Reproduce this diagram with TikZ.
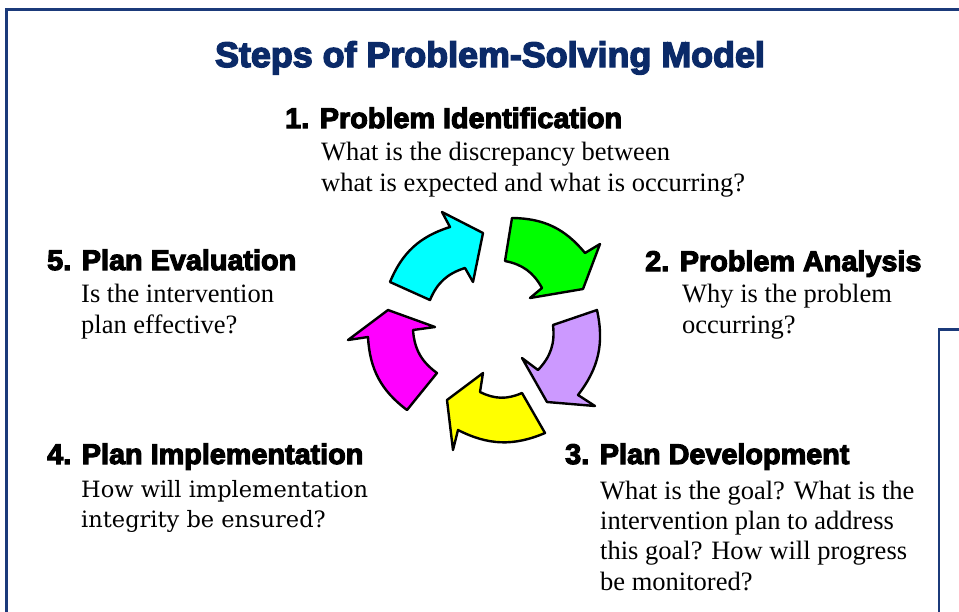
\documentclass[tikz,border=0pt]{standalone}
\usepackage{fontspec}
\setmainfont{Liberation Serif}
\newfontfamily\headfont{Liberation Sans Bold}[FakeBold=4,FakeStretch=1.01]
\newfontfamily\bookfont{DejaVu Serif}

\definecolor{titlenavy}{HTML}{0B2A68}
\definecolor{framenavy}{HTML}{1B3A7A}
\definecolor{arrowcyan}{HTML}{00FFFF}
\definecolor{arrowgreen}{HTML}{00FF00}
\definecolor{arrowlilac}{HTML}{CC99FF}
\definecolor{arrowyellow}{HTML}{FFFF00}
\definecolor{arrowmagenta}{HTML}{FF00FF}

\tikzset{
  steptitle/.style={inner sep=0pt, anchor=base west,
    font=\headfont\fontsize{28.5}{30}\selectfont},
  stepbody/.style={inner sep=0pt, anchor=base west, align=left,
    font=\fontsize{26.5}{30.3}\selectfont},
  cyclearrow/.style={draw=black, line width=2.4pt, line join=round},
  frameline/.style={draw=framenavy, line width=2.8pt}
}

\begin{document}
\begin{tikzpicture}[x=1pt,y=1pt]
  \useasboundingbox (0,0) rectangle (959,-611);
  \begin{scope}
    \clip (0,0) rectangle (959,-611);
    % outer frame and the corner of the next one
    \draw[frameline] (6.5,-9.7) rectangle (1020,-720);
    \draw[frameline] (939,-329.5) rectangle (1020,-720);
  \end{scope}

  \node[inner sep=0pt, anchor=base, text=titlenavy,
    font=\headfont\fontsize{35.5}{38}\selectfont] (ttl) at (490,-67)
    {Steps of Problem-Solving Model};

  % the five arrows of the cycle
  \draw[cyclearrow, fill=arrowcyan] (390,-282)
    to [bend left=25] (450,-227) -- (442,-212) -- (483,-233)
    -- (473,-282) -- (465,-268)
    to [bend right=25] (430,-300) -- cycle;
  \draw[cyclearrow, fill=arrowgreen] (512,-218)
    to [bend left=25] (585,-253) -- (600,-244) -- (583,-289)
    -- (530,-298) -- (542,-288)
    to [bend right=25] (505,-261) -- cycle;
  \draw[cyclearrow, fill=arrowlilac] (597,-310)
    to [bend left=25] (578,-395) -- (595,-406) -- (547,-402)
    -- (522,-358) -- (538,-370)
    to [bend right=25] (553,-325) -- cycle;
  \draw[cyclearrow, fill=arrowyellow] (545,-433)
    to [bend left=25] (458,-430) -- (453,-450) -- (447,-400)
    -- (483,-373) -- (480,-392)
    to [bend right=25] (522,-393) -- cycle;
  \draw[cyclearrow, fill=arrowmagenta] (407,-410)
    to [bend left=25] (368,-337) -- (348,-340) -- (388,-310)
    -- (435,-327) -- (413,-330)
    to [bend right=25] (437,-373) -- cycle;

  % steps and their questions (base = last line)
  \node[steptitle] (s1) at (285,-128) {1. Problem Identification};
  \node[stepbody] (s1q) at (321,-191)
    {What is the discrepancy between\\what is expected and what is occurring?};
  \node[steptitle] (s2) at (645,-271) {2. Problem Analysis};
  \node[stepbody] (s2q) at (682,-333) {Why is the problem\\occurring?};
  \node[steptitle] (s3) at (565,-464) {3. Plan Development};
  \node[stepbody] (s3q) at (600,-590)
    {What is the goal? What is the\\intervention plan to address\\this goal? How will progress\\be monitored?};
  \node[steptitle] (s4) at (47,-464) {4. Plan Implementation};
  \node[stepbody, font=\bookfont\fontsize{22.5}{29.5}\selectfont] (s4q) at (81,-527)
    {How will implementation\\integrity be ensured?};
  \node[steptitle] (s5) at (47,-270) {5. Plan Evaluation};
  \node[stepbody] (s5q) at (81,-333) {Is the intervention\\plan effective?};
\end{tikzpicture}
\end{document}
